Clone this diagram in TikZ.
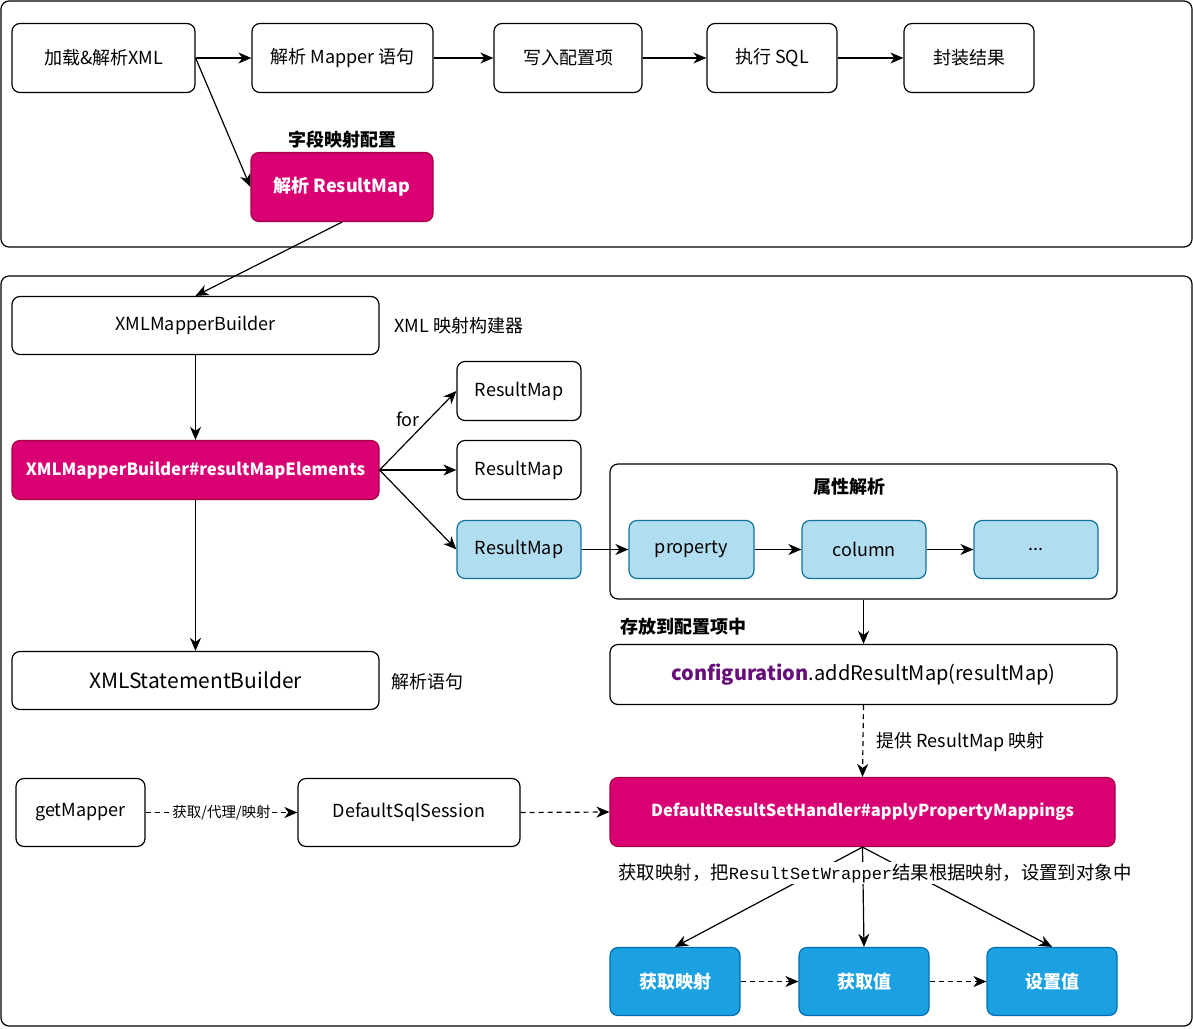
\documentclass[tikz,border=0pt]{standalone}
\usepackage{fontspec}
\setmainfont{Noto Sans CJK SC}
\newfontfamily\courfont{Liberation Mono}
\usetikzlibrary{arrows.meta}
\definecolor{mag}{HTML}{D80073}
\definecolor{magline}{HTML}{A50040}
\definecolor{lblue}{HTML}{B1DDF0}
\definecolor{lblueline}{HTML}{10739E}
\definecolor{dblue}{HTML}{1BA1E2}
\definecolor{dblueline}{HTML}{006EAF}
\definecolor{confpurple}{HTML}{660E7A}
\tikzset{
  box/.style={draw, rounded corners=8pt, line width=1.2pt, inner sep=0pt, align=center, font=\fontsize{18}{21}\selectfont},
  magbox/.style={box, fill=mag, draw=magline, text=white, font=\fontsize{17}{20}\selectfont\bfseries},
  lbox/.style={box, fill=lblue, draw=lblueline},
  bbox/.style={box, fill=dblue, draw=dblueline, text=white, font=\fontsize{18}{21}\selectfont\bfseries},
  frame/.style={draw, rounded corners=8pt, line width=1.2pt},
  conn/.style={line width=1.2pt, -{Stealth[length=13pt,width=11pt,inset=4pt]}},
  dconn/.style={conn, dash pattern=on 5pt off 4pt},
  blabel/.style={font=\fontsize{18}{21}\selectfont\bfseries},
  plabel/.style={font=\fontsize{18}{21}\selectfont},
}
\begin{document}
\begin{tikzpicture}[x=1pt,y=-1pt]
\useasboundingbox (0,0) rectangle (1193,1028);
\fill[white] (0,0) rectangle (1193,1028);
% frames
\draw[frame] (1,1) rectangle (1192,247);
\draw[frame] (1,276) rectangle (1192,1026);

% top row
\node[box, minimum width=183pt, minimum height=69pt] (load) at (103.5,58) {加载\&解析XML};
\node[box, minimum width=181pt, minimum height=69pt] (mapper) at (342.5,58) {解析 Mapper 语句};
\node[box, minimum width=148pt, minimum height=69pt] (write) at (568,58) {写入配置项};
\node[box, minimum width=130pt, minimum height=69pt] (exec) at (772,58) {执行 SQL};
\node[box, minimum width=130pt, minimum height=69pt] (wrap) at (969,58) {封装结果};
\node[magbox, minimum width=182pt, minimum height=69pt, font=\fontsize{18}{21}\selectfont\bfseries] (rmparse) at (342,187) {解析 ResultMap};
\node[blabel] (lblfield) at (342,140) {字段映射配置};

\draw[conn] (load.east) -- (mapper.west);
\draw[conn] (mapper.east) -- (write.west);
\draw[conn] (write.east) -- (exec.west);
\draw[conn] (exec.east) -- (wrap.west);
\draw[conn] (load.east) -- (rmparse.west);

% second section
\node[box, minimum width=367pt, minimum height=58pt] (xmb) at (195.5,325.5) {XMLMapperBuilder};
\node[plabel, anchor=west] (xmblbl) at (391,326) {XML 映射构建器};
\node[magbox, minimum width=367pt, minimum height=59pt, font=\fontsize{16.8}{20}\selectfont\bfseries] (rme) at (195.5,470) {XMLMapperBuilder\#resultMapElements};
\node[box, minimum width=367pt, minimum height=58pt, font=\fontsize{21}{24}\selectfont] (xsb) at (195.5,680.5) {XMLStatementBuilder};
\node[plabel, anchor=west] (xsblbl) at (388,682) {解析语句};

\node[box, minimum width=124pt, minimum height=59pt] (rm1) at (519,391) {ResultMap};
\node[box, minimum width=124pt, minimum height=59pt] (rm2) at (519,470) {ResultMap};
\node[lbox, minimum width=124pt, minimum height=58pt] (rm3) at (519,549.5) {ResultMap};

\draw[conn] (rmparse.south) -- (xmb.north);
\draw[conn] (xmb.south) -- (rme.north);
\draw[conn] (rme.south) -- (xsb.north);
\draw[conn] (rme.east) -- (rm1.west);
\draw[conn] (rme.east) -- (rm2.west);
\draw[conn] (rme.east) -- (rm3.west);
\node[plabel] (forlbl) at (408,419) {for};

% attribute parsing
\node[box, minimum width=507pt, minimum height=135pt] (attr) at (863.5,531.5) {};
\node[blabel] (attrlbl) at (849,487) {属性解析};
\node[lbox, minimum width=125pt, minimum height=58pt] (prop) at (691.5,549.5) {property};
\node[lbox, minimum width=124pt, minimum height=58pt] (col) at (864,549.5) {column};
\node[lbox, minimum width=124pt, minimum height=58pt] (dots) at (1036,549.5) {...};
\draw[conn] (rm3.east) -- (prop.west);
\draw[conn] (prop.east) -- (col.west);
\draw[conn] (col.east) -- (dots.west);

\node[blabel] (storelbl) at (683,627) {存放到配置项中};
\node[box, minimum width=507pt, minimum height=60pt, font=\fontsize{20}{23}\selectfont] (conf) at (863.5,674.5) {{\color{confpurple}\bfseries configuration}.addResultMap(resultMap)};
\draw[conn] (attr.south) -- (conf.north);

\node[magbox, minimum width=505pt, minimum height=69pt, font=\fontsize{16.5}{20}\selectfont\bfseries] (handler) at (862.5,812) {DefaultResultSetHandler\#applyPropertyMappings};
\draw[dconn] (conf.south) -- (handler.north);
\node[plabel, anchor=west] (provlbl) at (873,742) {提供 ResultMap 映射};

\node[box, minimum width=129pt, minimum height=68pt] (getm) at (80.5,812.5) {getMapper};
\node[box, minimum width=222pt, minimum height=68pt] (dss) at (409,812.5) {DefaultSqlSession};
\draw[dconn] (getm.east) -- node[fill=white, inner sep=1pt, font=\fontsize{14.5}{17}\selectfont] {获取/代理/映射} (dss.west);
\draw[dconn] (dss.east) -- (handler.west);

% bottom
\node[bbox, minimum width=130pt, minimum height=68pt] (g1) at (675,981.5) {获取映射};
\node[bbox, minimum width=130pt, minimum height=68pt] (g2) at (864,981.5) {获取值};
\node[bbox, minimum width=130pt, minimum height=68pt] (g3) at (1052,981.5) {设置值};
\draw[conn] (handler.south) -- (g1.north);
\draw[conn] (handler.south) -- (g2.north);
\draw[conn] (handler.south) -- (g3.north);
\draw[dconn] (g1.east) -- (g2.west);
\draw[dconn] (g2.east) -- (g3.west);
\node[fill=white, inner sep=1pt, font=\fontsize{18.4}{21}\selectfont] (hlbl) at (875,873) {获取映射，把{\courfont\fontsize{17}{21}\selectfont ResultSetWrapper}结果根据映射，设置到对象中};
\end{tikzpicture}
\end{document}
